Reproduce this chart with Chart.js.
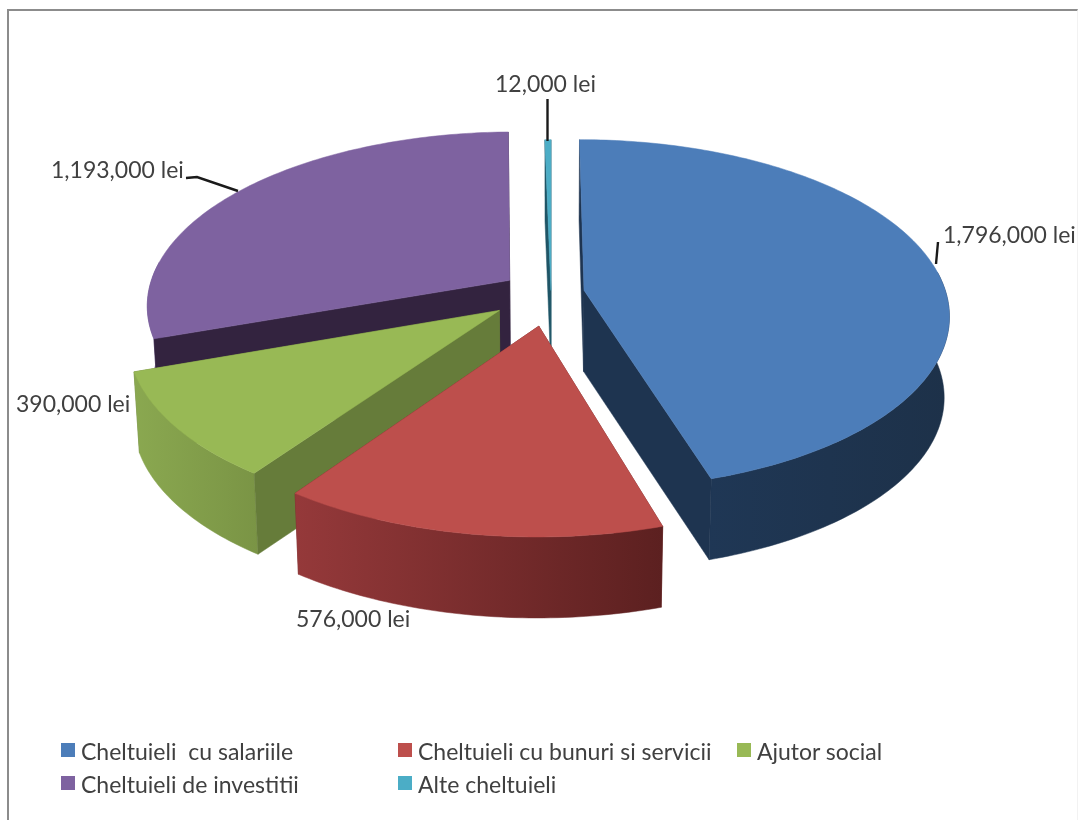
<!DOCTYPE html>
<html>
<head>
<meta charset="utf-8">
<script src="https://cdn.jsdelivr.net/npm/chart.js@4"></script>
<style>
  html, body { margin: 0; padding: 0; background: #fff; }
  #wrap { position: relative; width: 1079px; height: 820px; overflow: hidden; filter: blur(0.4px); }
  #frame { position: absolute; left: 7px; top: 9px; width: 1071px; height: 820px; box-sizing: border-box;
           border-left: 2px solid #8c8c8c; border-top: 2px solid #8c8c8c; border-right: 1px solid #f2f2f2; }
  canvas { position: absolute; left: 0; top: 0; }
  .item { position: absolute; font: 23px Lato, sans-serif; color: #404040; white-space: pre; line-height: 26px; }
  .item i { position: absolute; left: -20px; top: 5px; width: 14px; height: 14px; }
</style>
</head>
<body>
<div id="wrap">
  <div id="frame"></div>
  <canvas id="chart1" width="1079" height="820"></canvas>
</div>
<script>
// values
const categories = ['Cheltuieli  cu salariile', 'Cheltuieli cu bunuri si servicii', 'Ajutor social', 'Cheltuieli de investitii', 'Alte cheltuieli'];
const amounts = [1796000, 576000, 390000, 1193000, 12000];
const unit = ' lei';

// colours
const topColors = ['#4c7db9', '#bd4f4c', '#98b955', '#7e62a0', '#4badc6'];
const innerColors = ['#1e3450', '#6a2826', '#667c3a', '#33233f', '#1f5566'];
const outerLeft = ['#1f3755', '#95393a', '#8aa850', '#6f5a92', '#2f7a90'];
const outerRight = ['#1d3149', '#5c2020', '#7a9445', '#6f5a92', '#2f7a90'];

// explosion of each slice, in hundredths of the radius, and small sideways nudge in px
const explode = [10.5, 19, 16.6, 13, 1.5];
const nudgeX = [-1.5, 2, 0, 0, 3];

// projection of the unit disc on the page
const cx = 548, cy = 293, scaleX = 362, scaleY = 172, persp = 0.137;
const depth = 81, bottomShrink = 0.987;

// label placement
const labelPos = [[943, 236], [296, 620], [16, 405], [51, 171], [495, 85]];
const leaders = [
    [[938, 242], [936, 264]],
    [],
    [],
    [[186, 178], [197, 177], [238, 191]],
    [[547.5, 99], [547.5, 141]]
];
const legendPos = [[81, 738], [418, 738], [757, 738], [81, 771], [418, 771]];

function project(u, v, low) {
    const w = 1 - persp * v;
    let x = cx + scaleX * u / w;
    let y = cy + scaleY * v / w;
    if (low) {
        x = cx + (x - cx) * bottomShrink;
        y += depth;
    }
    return [x, y];
}

function fillPoly(ctx, pts, style) {
    ctx.beginPath();
    pts.forEach((p, i) => i ? ctx.lineTo(p[0], p[1]) : ctx.moveTo(p[0], p[1]));
    ctx.closePath();
    ctx.fillStyle = style;
    ctx.strokeStyle = style;
    ctx.lineWidth = 0.5;
    ctx.fill();
    ctx.stroke();
}

function drawSlice(ctx, arc, i) {
    const a0 = arc.startAngle, a1 = arc.endAngle, mid = (a0 + a1) / 2;
    const e = arc.options.offset / 100;
    const ou = e * Math.cos(mid), ov = e * Math.sin(mid);
    const rim = (a, low) => project(ou + Math.cos(a), ov + Math.sin(a), low);
    const apexTop = project(ou, ov, false), apexLow = project(ou, ov, true);
    const steps = Math.max(2, Math.ceil((a1 - a0) * 60));
    const cutFace = a => fillPoly(ctx, [apexTop, rim(a, false), rim(a, true), apexLow], innerColors[i]);
    const startFront = -Math.cos(a0) > 0, endFront = Math.cos(a1) > 0;

    ctx.save();
    ctx.translate(nudgeX[i], 0);

    // cut faces turned away from the viewer go first
    if (!startFront) cutFace(a0);
    if (!endFront) cutFace(a1);

    // outer wall, only the part that faces the viewer
    const wallTop = [], wallLow = [];
    for (let s = 0; s <= steps; s++) {
        const a = a0 + (a1 - a0) * s / steps;
        if (Math.sin(a) < -0.12) continue;
        wallTop.push(rim(a, false));
        wallLow.unshift(rim(a, true));
    }
    if (wallTop.length > 1) {
        const all = wallTop.concat(wallLow);
        const xs = all.map(p => p[0]);
        const g = ctx.createLinearGradient(Math.min(...xs), 0, Math.max(...xs), 0);
        g.addColorStop(0, outerLeft[i]);
        g.addColorStop(1, outerRight[i]);
        fillPoly(ctx, all, g);
    }

    if (startFront) cutFace(a0);
    if (endFront) cutFace(a1);

    // top face
    const face = [apexTop];
    for (let s = 0; s <= steps; s++) {
        face.push(rim(a0 + (a1 - a0) * s / steps, false));
    }
    fillPoly(ctx, face, arc.options.backgroundColor);
    ctx.restore();
}

const pie3d = {
    id: 'pie3d',
    beforeDatasetsDraw(chart) {
        const ctx = chart.ctx;
        const arcs = chart.getDatasetMeta(0).data;
        const order = arcs.map((a, i) => i)
            .sort((p, q) => Math.sin((arcs[p].startAngle + arcs[p].endAngle) / 2) - Math.sin((arcs[q].startAngle + arcs[q].endAngle) / 2));
        ctx.save();
        order.forEach(i => drawSlice(ctx, arcs[i], i));
        ctx.restore();
        return false;
    },
    afterDraw(chart) {
        const ctx = chart.ctx;
        ctx.save();
        ctx.strokeStyle = '#1a1a1a';
        ctx.lineWidth = 2.4;
        leaders.forEach(l => {
            if (!l.length) return;
            ctx.beginPath();
            l.forEach((p, i) => i ? ctx.lineTo(p[0], p[1]) : ctx.moveTo(p[0], p[1]));
            ctx.stroke();
        });
        ctx.fillStyle = '#404040';
        ctx.font = '23px Lato, sans-serif';
        ctx.textAlign = 'left';
        ctx.textBaseline = 'middle';
        amounts.forEach((v, i) => {
            ctx.fillText(v.toLocaleString('en-US') + unit, labelPos[i][0], labelPos[i][1]);
        });
        ctx.restore();
    }
};

const chart1 = new Chart(document.getElementById('chart1'), {
    type: 'pie',
    data: {
        labels: categories,
        datasets: [{
            data: amounts,
            backgroundColor: topColors,
            offset: explode,
            borderWidth: 0
        }]
    },
    options: {
        responsive: false,
        animation: false,
        events: [],
        plugins: { legend: { display: false }, tooltip: { enabled: false } }
    },
    plugins: [pie3d]
});

// legend in two rows with aligned columns
categories.forEach((name, i) => {
    const el = document.createElement('div');
    el.className = 'item';
    el.style.left = legendPos[i][0] + 'px';
    el.style.top = legendPos[i][1] + 'px';
    el.textContent = name;
    const box = document.createElement('i');
    box.style.background = topColors[i];
    el.appendChild(box);
    document.getElementById('wrap').appendChild(el);
});
</script>
</body>
</html>
